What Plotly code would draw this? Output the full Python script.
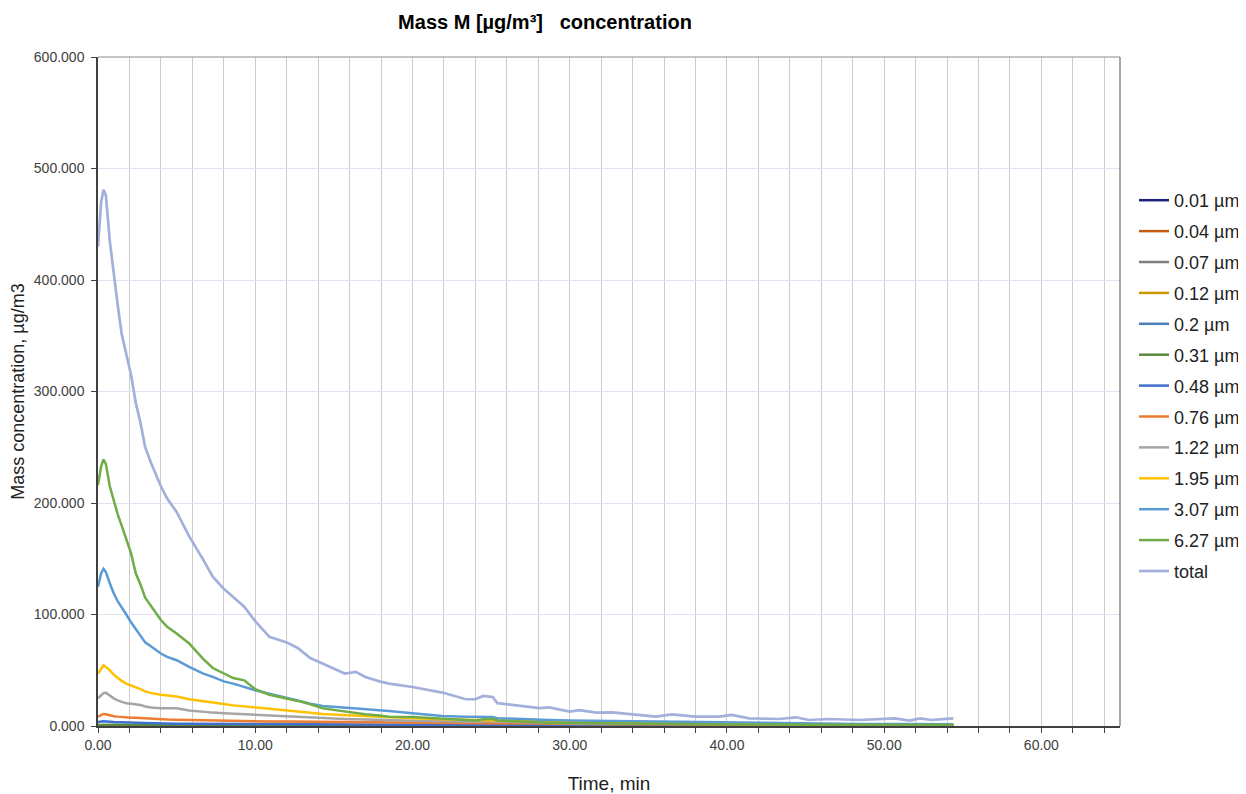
import plotly.graph_objects as go

# ---------------- data ----------------
time_min = [0, 0.2, 0.35, 0.5, 0.75, 1.0, 1.25, 1.5, 1.8, 2.1, 2.4, 2.7, 3.0, 3.4, 4.0, 4.4,
            5.0, 5.8, 6.7, 7.3, 8.0, 8.6, 9.3, 10.0, 10.9, 12.0, 12.7, 13.5, 14.3, 15.2, 15.7,
            16.4, 17.0, 17.9, 18.5, 20.0, 21.9, 23.4, 24.0, 24.5, 25.1, 25.4, 26.8, 28.1, 28.7,
            30.0, 30.6, 31.7, 32.7, 34.0, 35.5, 36.5, 38.0, 39.5, 40.3, 41.4, 43.3, 44.4, 45.2,
            46.5, 47.7, 48.4, 50.7, 51.6, 52.3, 53.0, 54.4]

total = [430, 470, 481, 476, 435, 405, 378, 352, 333, 315, 290, 272, 250, 235, 215, 204,
         192, 170, 149, 134, 123, 116, 107, 94, 80, 75, 70, 61, 56, 50, 47,
         48.5, 44, 40, 38, 35, 30, 24, 24, 27, 26, 20.5, 18, 16, 16.7,
         13, 14.3, 12, 12.2, 10.5, 8.4, 10.5, 8.4, 8.4, 9.9, 6.9, 6.3, 7.8, 5.4,
         6.3, 5.4, 5.4, 6.9, 4.8, 6.9, 5.4, 6.9]

m_6_27 = [216, 233, 239, 235, 215, 202, 190, 180, 168, 155, 137, 127, 115, 107, 95, 89,
          83, 74, 60, 52, 47, 43, 41, 33, 28, 25, 22.5, 19.5, 16, 14, 13,
          11.5, 10.5, 9.5, 8.4, 8, 6.5, 5.5, 5, 6, 6.5, 5, 4, 3.2, 3,
          2.6, 2.5, 2.2, 2.0, 1.8, 1.6, 1.6, 1.5, 1.4, 1.4, 1.3, 1.2, 1.2, 1.1,
          1.1, 1.0, 1.0, 1.0, 0.9, 0.9, 0.9, 0.9]

m_3_07 = [125, 137, 141, 138, 128, 119, 112, 106, 100, 93, 87, 80, 75, 71, 65, 62,
          59, 53, 47, 44, 40, 38, 35, 32, 29, 25.5, 23, 20, 18, 17, 16.5,
          15.9, 15, 14, 13.5, 11.5, 9, 8.4, 8.4, 8.6, 8, 7, 6, 5.5, 5.3,
          4.9, 4.8, 4.5, 4.3, 4, 3.7, 3.6, 3.3, 3, 2.9, 2.5, 2.3, 2.2, 2.1,
          2, 1.9, 1.8, 1.7, 1.7, 1.6, 1.6, 1.6]

m_1_95 = [47, 52, 54.5, 53, 50, 46, 43, 40.5, 38, 36.5, 35, 33, 31, 29.5, 28, 27.5,
          26.5, 24, 22, 21, 19.7, 18.5, 17.5, 16.7, 15.5, 13.7, 12.8, 11.8, 10.8, 10.2, 9.8,
          9.3, 8.8, 8.4, 7.8, 7, 6, 5.5, 5.4, 5.2, 5, 4.8, 4.2, 3.8, 3.6,
          3.3, 3.2, 3, 2.8, 2.6, 2.4, 2.3, 2.1, 2, 1.9, 1.8, 1.7, 1.6, 1.5,
          1.5, 1.4, 1.4, 1.3, 1.3, 1.2, 1.2, 1.2]

m_1_22 = [24.8, 28, 29.5, 29.9, 27, 24.8, 23, 21.5, 20.3, 20, 19.5, 18.8, 17.5, 16.5, 15.9, 15.9,
          15.9, 14, 12.5, 12, 11.4, 11, 10.4, 9.9, 9, 8.4, 8, 7.4, 6.9, 6.5, 6.2,
          6, 5.7, 5.5, 5.4, 4.8, 4.2, 3.8, 3.7, 4.2, 4, 3.4, 3, 2.7, 2.6,
          2.4, 2.3, 2.2, 2.1, 1.9, 1.8, 1.7, 1.6, 1.5, 1.5, 1.4, 1.3, 1.3, 1.2,
          1.2, 1.1, 1.1, 1.1, 1.0, 1.0, 1.0, 1.0]

m_0_76 = [8.4, 10, 10.8, 10.5, 9.5, 8.8, 8.4, 8, 7.7, 7.5, 7.3, 7, 6.7, 6.3, 6, 5.9,
          5.7, 5.4, 5.1, 5, 4.8, 4.6, 4.5, 4.3, 4.1, 4, 3.9, 3.7, 3.6, 3.5, 3.4,
          3.4, 3.3, 3.2, 3.1, 2.9, 2.7, 2.5, 2.5, 2.6, 2.5, 2.3, 2.1, 2, 1.9,
          1.8, 1.7, 1.7, 1.6, 1.5, 1.4, 1.4, 1.3, 1.2, 1.2, 1.1, 1.1, 1.0, 1.0,
          1.0, 0.9, 0.9, 0.9, 0.8, 0.8, 0.8, 0.8]

time_small = [0, 0.35, 1, 2, 3, 5, 8, 12, 16, 20, 25, 30, 35, 40, 45, 50, 54.4]
m_0_48 = [3.5, 4.2, 3.6, 3.0, 2.6, 2.1, 1.8, 1.5, 1.3, 1.1, 0.9, 0.8, 0.7, 0.6, 0.55, 0.5, 0.5]
m_0_31 = [1.0, 1.2, 1.1, 1.0, 0.9, 0.8, 0.7, 0.6, 0.5, 0.45, 0.4, 0.35, 0.3, 0.3, 0.3, 0.25, 0.25]
m_0_2 = [0.5, 0.6, 0.55, 0.5, 0.45, 0.4, 0.35, 0.3, 0.25, 0.2, 0.2, 0.15, 0.15, 0.15, 0.1, 0.1, 0.1]
m_0_12 = [0.2, 0.25, 0.22, 0.2, 0.18, 0.15, 0.12, 0.1, 0.08, 0.07, 0.06, 0.05, 0.05, 0.05, 0.04, 0.04, 0.04]
m_0_07 = [0.1, 0.12, 0.11, 0.1, 0.09, 0.08, 0.07, 0.06, 0.05, 0.04, 0.04, 0.03, 0.03, 0.03, 0.03, 0.02, 0.02]
m_0_04 = [0.05, 0.06, 0.05, 0.05, 0.04, 0.04, 0.03, 0.03, 0.02, 0.02, 0.02, 0.02, 0.01, 0.01, 0.01, 0.01, 0.01]
m_0_01 = [0.01, 0.01, 0.01, 0.01, 0.01, 0.01, 0.01, 0.01, 0.01, 0.01, 0.0, 0.0, 0.0, 0.0, 0.0, 0.0, 0.0]

series_names = ["0.01 µm", "0.04 µm", "0.07 µm", "0.12 µm", "0.2 µm", "0.31 µm", "0.48 µm",
                "0.76 µm", "1.22 µm", "1.95 µm", "3.07 µm", "6.27 µm", "total"]
series_x = [time_small] * 7 + [time_min] * 6
series_y = [m_0_01, m_0_04, m_0_07, m_0_12, m_0_2, m_0_31, m_0_48,
            m_0_76, m_1_22, m_1_95, m_3_07, m_6_27, total]
series_colors = ["#1f1f80", "#c55a11", "#7f7f7f", "#c99a00", "#4a7fb8", "#5a8a3c", "#3f6fcf",
                 "#ed7d31", "#a5a5a5", "#ffc000", "#5b9bd5", "#70ad47", "#a3b0db"]

x_ticks = [0, 10, 20, 30, 40, 50, 60]
x_ticklabels = ["0.00", "10.00", "20.00", "30.00", "40.00", "50.00", "60.00"]
y_ticks = [0, 100, 200, 300, 400, 500, 600]
y_ticklabels = ["0.000", "100.000", "200.000", "300.000", "400.000", "500.000", "600.000"]

FONT = "Arial, 'Liberation Sans', sans-serif"

# the page body adds an 8px margin, so the figure is 8px smaller than the window
FIG_W, FIG_H = 1238, 786

fig = go.Figure()
for name, xs, ys, col in zip(series_names, series_x, series_y, series_colors):
    fig.add_trace(go.Scatter(
        x=xs, y=ys, name=name, mode="lines",
        line=dict(color=col, width=2.7 if name == "total" else 2.5),
        legendgroup=name,
    ))

# lighter frame on the top and right sides of the plot area
fig.add_shape(type="line", xref="paper", yref="paper", x0=0, x1=1, y0=1, y1=1,
              line=dict(color="#8c8c8c", width=1.2), layer="above")
fig.add_shape(type="line", xref="paper", yref="paper", x0=1, x1=1, y0=0, y1=1,
              line=dict(color="#6e6e6e", width=1.2), layer="above")

fig.update_layout(
    width=FIG_W, height=FIG_H,
    margin=dict(l=90, r=126, t=49, b=68, autoexpand=False),
    paper_bgcolor="white", plot_bgcolor="white",
    font=dict(family=FONT, color="#404040"),
    title=dict(
        text="Mass M [µg/m³]\u00a0\u00a0 concentration",
        font=dict(family=FONT, size=20, color="black", weight="bold"),
        x=537 / FIG_W, xanchor="center", xref="container",
        y=1 - 14 / FIG_H, yanchor="middle", yref="container",
    ),
    showlegend=True,
    legend=dict(
        x=1126 / FIG_W, xref="container", xanchor="left",
        y=1 - 174 / FIG_H, yref="container", yanchor="top",
        font=dict(family=FONT, size=18, color="#222222"),
        traceorder="grouped", tracegroupgap=4.5,
        bgcolor="rgba(0,0,0,0)", borderwidth=0,
        itemwidth=30, maxheight=560,
    ),
    xaxis=dict(
        range=[0, 65], autorange=False,
        tickmode="array", tickvals=x_ticks, ticktext=x_ticklabels,
        ticks="outside", ticklen=5, tickcolor="#404040",
        tickfont=dict(family=FONT, size=14, color="#404040"),
        showgrid=True, gridcolor="#cccccc", gridwidth=1,
        minor=dict(dtick=2, tick0=0, showgrid=True, gridcolor="#cccccc", gridwidth=1,
                   ticks="outside", ticklen=5, tickcolor="#404040"),
        showline=True, linecolor="#404040", linewidth=1.5, mirror=False,
        zeroline=False,
        title=dict(text="Time, min", font=dict(family=FONT, size=19, color="#222222"),
                   standoff=25),
    ),
    yaxis=dict(
        range=[0, 600], autorange=False,
        tickmode="array", tickvals=y_ticks, ticktext=y_ticklabels,
        ticks="outside", ticklen=5, tickcolor="#404040",
        tickfont=dict(family=FONT, size=14, color="#404040"),
        ticklabelstandoff=4,
        showgrid=True, gridcolor="#e2e2f2", gridwidth=1,
        showline=True, linecolor="#404040", linewidth=1.5, mirror=False,
        zeroline=False,
        title=dict(text="Mass concentration, µg/m3", font=dict(family=FONT, size=18, color="#222222"),
                   standoff=6),
    ),
)

fig.write_html("out.html")
